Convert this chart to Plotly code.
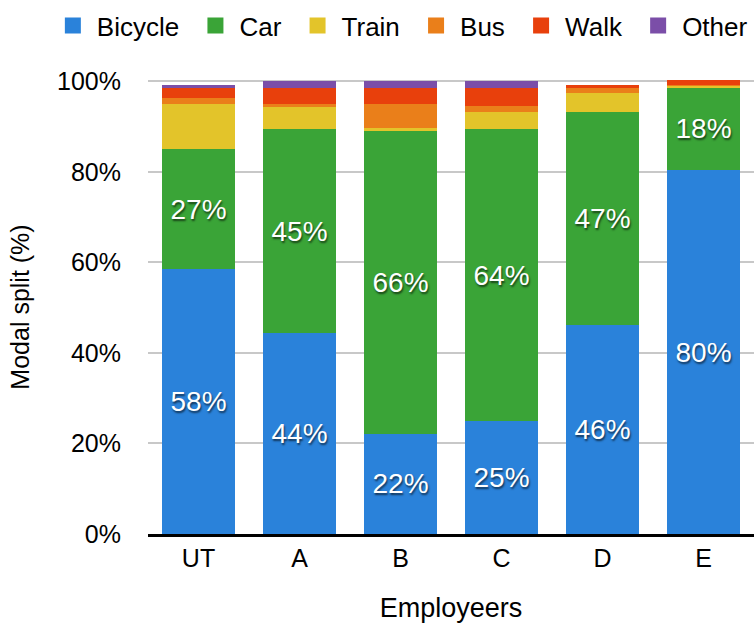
import plotly.graph_objects as go

employers = ["UT", "A", "B", "C", "D", "E"]
bicycle = [58.6, 44.4, 22.1, 24.9, 46.1, 80.4]
car = [26.4, 45.0, 66.9, 64.5, 47.1, 18.2]
train = [10.0, 5.1, 0.6, 3.8, 4.2, 0.4]
bus = [1.3, 0.4, 5.3, 1.3, 1.1, 0.2]
walk = [2.3, 3.6, 3.6, 4.0, 0.6, 1.0]
other = [0.6, 1.6, 1.5, 1.6, 0.0, 0.0]

bicycle_labels = ["58%", "44%", "22%", "25%", "46%", "80%"]
car_labels = ["27%", "45%", "66%", "64%", "47%", "18%"]

ytick_vals = [0, 20, 40, 60, 80, 100]
ytick_text = ["0%", "20%", "40%", "60%", "80%", "100%"]

FONT = "Liberation Sans, Arial, Helvetica, sans-serif"
NB = "\u00a0"

series = [
    ("Bicycle", bicycle, "#2a82da", bicycle_labels),
    ("Car", car, "#3aa437", car_labels),
    ("Train", train, "#e3c42a", None),
    ("Bus", bus, "#ea7f1a", None),
    ("Walk", walk, "#e8400c", None),
    ("Other", other, "#7b4ea8", None),
]

fig = go.Figure()
for name, vals, color, labels in series:
    if labels is not None:
        kw = dict(
            text=labels,
            textposition="inside",
            insidetextanchor="middle",
            textangle=0,
            constraintext="none",
            textfont=dict(family=FONT, size=28, color="white",
                          shadow="1px 2px 2px rgba(0,0,0,0.6)"),
        )
    else:
        kw = dict(textposition="none")
    fig.add_trace(go.Bar(
        name=name, x=employers, y=vals,
        marker=dict(color=color, line=dict(width=0)),
        legendgroup=name, showlegend=False,
        hoverinfo="x+y+name",
        **kw,
    ))

# legend entries with larger square swatches
n_series = len(series)
for i, (name, vals, color, labels) in enumerate(series):
    label = name if i == n_series - 1 else name + NB
    fig.add_trace(go.Scatter(
        name=label, x=[None], y=[None], mode="markers",
        marker=dict(symbol="square", size=22, color=color),
        legendgroup=name, showlegend=True, hoverinfo="skip",
    ))

fig.update_layout(
    barmode="stack",
    bargap=0.28,
    width=755, height=627,
    margin=dict(l=148, r=1, t=80, b=93),
    paper_bgcolor="white",
    plot_bgcolor="white",
    font=dict(family=FONT, size=25, color="black"),
    legend=dict(
        orientation="h",
        x=-0.1636, xanchor="left",
        y=1.120, yanchor="middle",
        font=dict(size=26),
        itemwidth=38,
        itemsizing="trace",
        traceorder="normal",
    ),
    xaxis=dict(
        showline=True, linecolor="black", linewidth=3,
        showgrid=False, ticks="",
        ticklabelstandoff=0,
        tickfont=dict(size=25),
        title=dict(text="Employeers", font=dict(size=27), standoff=28),
    ),
    yaxis=dict(
        range=[0, 100.3],
        tickvals=ytick_vals, ticktext=ytick_text,
        showgrid=True, gridcolor="#c8c8c8", gridwidth=1.5,
        showline=False, zeroline=False, ticks="",
        ticklabelstandoff=26,
        tickfont=dict(size=25),
        title=dict(text="Modal split (%)", font=dict(size=25), standoff=20),
    ),
)

fig.write_html("out.html", config={"displayModeBar": False},
               post_script="document.body.style.margin='0';")
